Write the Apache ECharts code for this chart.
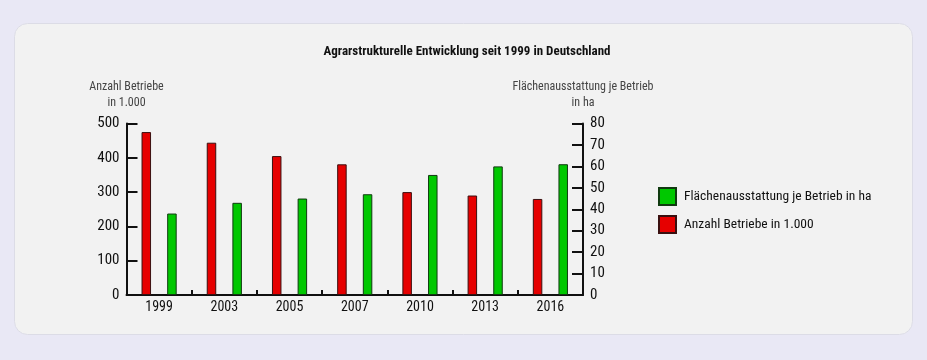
<!DOCTYPE html>
<html>
<head>
<meta charset="utf-8">
<script src="https://cdn.jsdelivr.net/npm/echarts@6/dist/echarts.min.js"></script>
<style>
html,body{margin:0;padding:0;background:#e9e8f5;}
#c{width:927px;height:360px;}
</style>
</head>
<body>
<div id="c"></div>
<script>
const categories = ['1999', '2003', '2005', '2007', '2010', '2013', '2016'];
const betriebe = [475, 444, 405, 381, 300, 290, 280];
const flaeche = [38, 43, 45, 47, 56, 60, 61];
const leftTicks = { min: 0, max: 500, interval: 100 };
const rightTicks = { min: 0, max: 80, interval: 10 };

const FONT = '"Roboto Condensed", "Liberation Sans", sans-serif';
const chart = echarts.init(document.getElementById('c'), null, { renderer: 'canvas' });
const axisLine = { show: true, lineStyle: { color: '#111', width: 2 } };

chart.setOption({
  backgroundColor: 'transparent',
  animation: false,
  graphic: [{
    type: 'rect', z: -10, silent: true,
    shape: { x: 14.5, y: 23.5, width: 898, height: 311, r: 13 },
    style: { fill: '#f2f2f2', stroke: '#dcdce6', lineWidth: 1 }
  }],
  title: {
    text: 'Agrarstrukturelle Entwicklung seit 1999 in Deutschland',
    left: 462, top: 40, textAlign: 'center',
    textStyle: { fontFamily: FONT, fontSize: 13, fontWeight: 'bold', color: '#111' }
  },
  legend: {
    orient: 'vertical', left: 658, top: 187, padding: 0,
    itemWidth: 17, itemHeight: 17, itemGap: 9,
    icon: 'rect',
    textStyle: { fontFamily: FONT, fontSize: 13.5, color: '#111', padding: [0, 0, 0, 3] },
    data: ['Flächenausstattung je Betrieb in ha', 'Anzahl Betriebe in 1.000']
  },
  grid: { left: 126.5, right: 927 - 583, top: 123.5, bottom: 360 - 295, containLabel: false },
  xAxis: {
    type: 'category', data: categories,
    axisLine: axisLine,
    axisTick: { show: true, inside: true, length: 5, lineStyle: { color: '#111', width: 2 } },
    axisLabel: { fontFamily: FONT, fontSize: 14, color: '#111', margin: 5 },
    splitLine: { show: false }
  },
  yAxis: [{
    type: 'value', position: 'left',
    min: leftTicks.min, max: leftTicks.max, interval: leftTicks.interval,
    name: 'Anzahl Betriebe\nin 1.000', nameLocation: 'end', nameGap: 13,
    nameTextStyle: { fontFamily: FONT, fontSize: 12, color: '#444', align: 'center', lineHeight: 16 },
    axisLine: axisLine,
    axisTick: { show: true, inside: true, length: 11, lineStyle: { color: '#111', width: 2 } },
    axisLabel: { fontFamily: FONT, fontSize: 15, color: '#111', margin: 7 },
    splitLine: { show: false }
  }, {
    type: 'value', position: 'right',
    min: rightTicks.min, max: rightTicks.max, interval: rightTicks.interval,
    name: 'Flächenausstattung je Betrieb\nin ha', nameLocation: 'end', nameGap: 13,
    nameTextStyle: { fontFamily: FONT, fontSize: 12, color: '#444', align: 'center', lineHeight: 16 },
    axisLine: axisLine,
    axisTick: { show: true, inside: true, length: 11, lineStyle: { color: '#111', width: 2 } },
    axisLabel: { fontFamily: FONT, fontSize: 15, color: '#111', margin: 7 },
    splitLine: { show: false }
  }],
  series: [{
    name: 'Anzahl Betriebe in 1.000', type: 'bar', yAxisIndex: 0,
    data: betriebe, barWidth: 9.5, barGap: '170%',
    itemStyle: { color: '#e60000', borderColor: '#3a1010', borderWidth: 1 }
  }, {
    name: 'Flächenausstattung je Betrieb in ha', type: 'bar', yAxisIndex: 1,
    data: flaeche, barWidth: 9.5, barGap: '170%',
    itemStyle: { color: '#00c800', borderColor: '#103a10', borderWidth: 1 }
  }]
});
</script>
</body>
</html>
